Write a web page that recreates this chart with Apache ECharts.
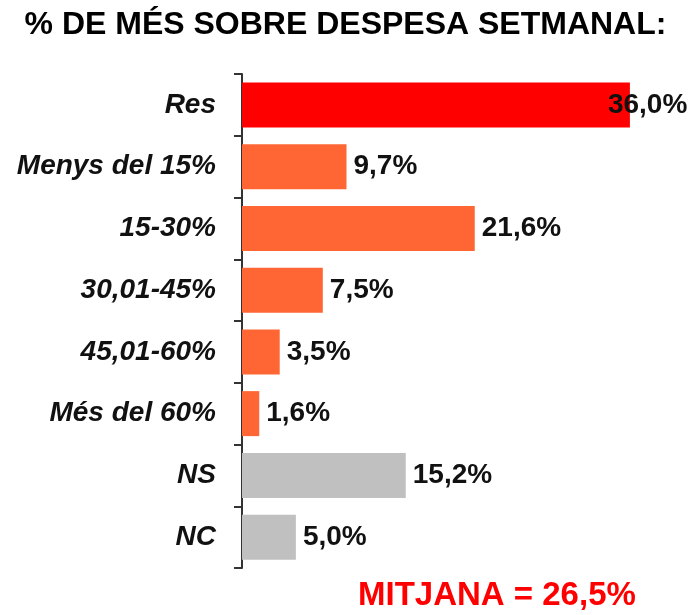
<!DOCTYPE html>
<html>
<head>
<meta charset="utf-8">
<script src="https://cdn.jsdelivr.net/npm/echarts@6/dist/echarts.min.js"></script>
<style>
  html, body { margin: 0; padding: 0; background: #fff; }
  #chart { width: 691px; height: 615px; }
</style>
</head>
<body>
<div id="chart"></div>
<script>
// dades
var categories = ["Res", "Menys del 15%", "15-30%", "30,01-45%", "45,01-60%", "Més del 60%", "NS", "NC"];
var values = [36.0, 9.7, 21.6, 7.5, 3.5, 1.6, 15.2, 5.0];
var barColors = ["#FF0000", "#FF6633", "#FF6633", "#FF6633", "#FF6633", "#FF6633", "#C0C0C0", "#C0C0C0"];
var titleText = "% DE MÉS SOBRE DESPESA SETMANAL:";
var meanText = "MITJANA = 26,5%";

var font = "Liberation Sans, Arial, sans-serif";

var chart = echarts.init(document.getElementById("chart"));

var seriesData = values.map(function (v, i) {
  var item = { value: v, itemStyle: { color: barColors[i] } };
  if (i === 0) {
    // l'etiqueta de "Res" queda sobre el final de la barra
    item.label = { offset: [-29, 0] };
  }
  return item;
});

chart.setOption({
  backgroundColor: "#fff",
  animation: false,
  title: {
    text: titleText,
    left: "center",
    top: 4,
    textStyle: {
      fontFamily: font,
      fontWeight: "bold",
      fontSize: 32,
      color: "#000"
    }
  },
  grid: {
    left: 242,
    right: 18,
    top: 74,
    bottom: 47
  },
  xAxis: {
    type: "value",
    min: 0,
    max: 40,
    show: false
  },
  yAxis: {
    type: "category",
    inverse: true,
    data: categories,
    axisLine: {
      show: true,
      lineStyle: { color: "#333", width: 2 }
    },
    axisTick: {
      show: true,
      length: 8,
      lineStyle: { color: "#333", width: 2 }
    },
    axisLabel: {
      margin: 26,
      color: "#111",
      fontFamily: font,
      fontStyle: "italic",
      fontWeight: "bold",
      fontSize: 28
    }
  },
  series: [
    {
      type: "bar",
      data: seriesData,
      barWidth: 45,
      label: {
        show: true,
        position: "right",
        distance: 7,
        color: "#111",
        fontFamily: font,
        fontWeight: "bold",
        fontSize: 28,
        formatter: function (p) {
          return p.value.toFixed(1).replace(".", ",") + "%";
        }
      }
    }
  ],
  graphic: [
    {
      type: "text",
      left: 358,
      top: 579,
      style: {
        text: meanText,
        fill: "#FF0000",
        font: "bold 33px " + font
      }
    }
  ]
});
</script>
</body>
</html>
